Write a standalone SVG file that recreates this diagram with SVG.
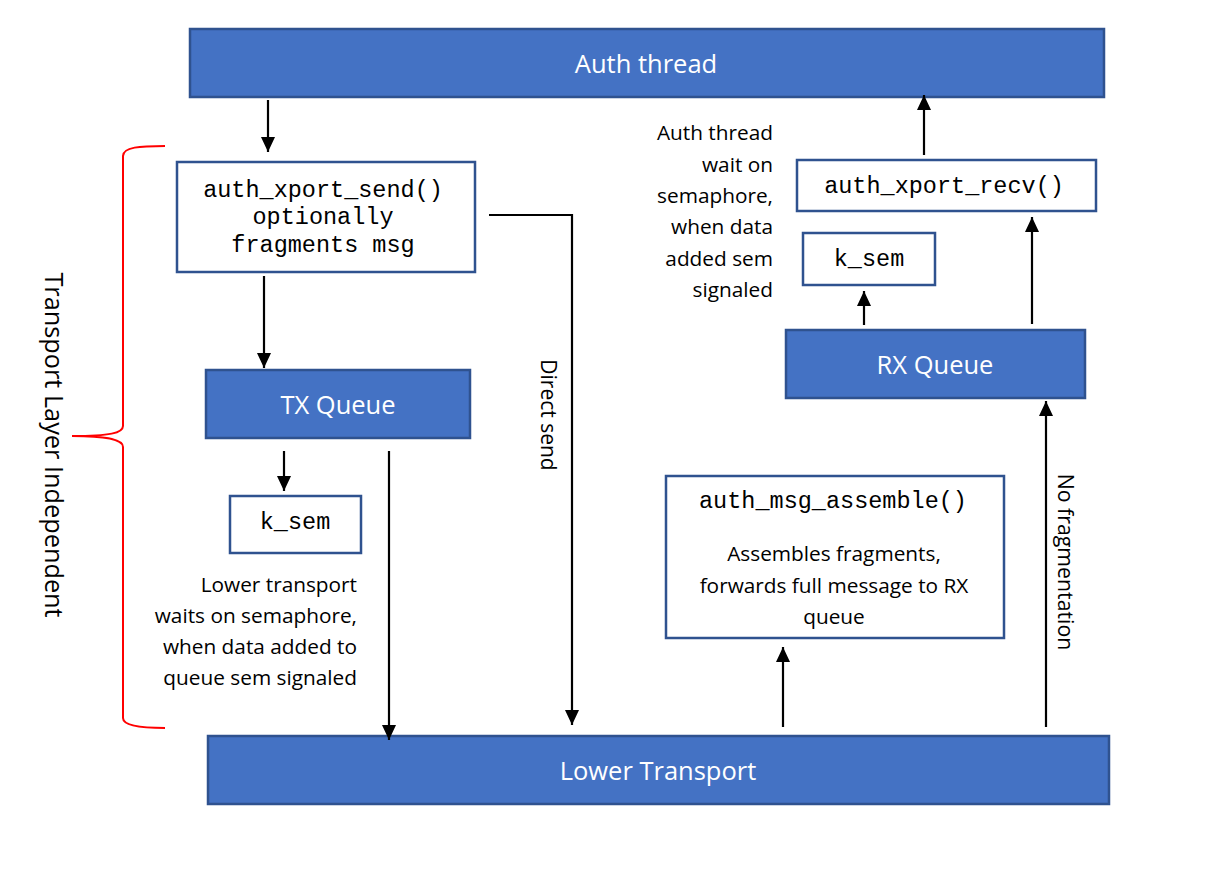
<svg xmlns="http://www.w3.org/2000/svg" width="1226" height="882" viewBox="0 0 1226 882">
<defs>
<marker id="ah" markerWidth="15" markerHeight="14" refX="15" refY="7" orient="auto" markerUnits="userSpaceOnUse" viewBox="0 0 15 14">
<path d="M0,0 L15,7 L0,14 Z" fill="#000"/>
</marker>
</defs>
<style>
.blue{fill:#4472C4;stroke:#2F528F;stroke-width:2.5}
.white{fill:#fff;stroke:#2F528F;stroke-width:2.5}
.ttl{font-family:"Open Sans","Noto Sans",sans-serif;font-size:25.5px;fill:#fff;text-anchor:middle}
.mono{font-family:"Liberation Mono","Courier New",monospace;font-size:23.5px;fill:#000;text-anchor:middle}
.lbl{font-family:"Open Sans","Noto Sans",sans-serif;font-size:20.8px;fill:#000}
.conn{stroke:#000;stroke-width:2.2;fill:none}
</style>
<rect width="1226" height="882" fill="#fff"/>
<g id="auth-thread"><rect class="blue" x="190" y="29" width="914" height="68"/><text class="ttl" x="646" y="73">Auth thread</text></g>
<g id="auth-xport-send"><rect class="white" x="177" y="162" width="298" height="110"/><text class="mono" x="323" y="197">auth_xport_send()</text><text class="mono" x="323" y="224">optionally</text><text class="mono" x="323" y="252">fragments msg</text></g>
<g id="tx-queue"><rect class="blue" x="206" y="370" width="264" height="68"/><text class="ttl" x="338" y="414">TX Queue</text></g>
<g id="k-sem-tx"><rect class="white" x="230" y="496" width="131" height="57"/><text class="mono" x="295" y="529">k_sem</text></g>
<g id="lower-transport-note"><text class="lbl" text-anchor="end"><tspan x="357" y="592">Lower transport</tspan><tspan x="357" y="623">waits on semaphore,</tspan><tspan x="357" y="654">when data added to</tspan><tspan x="357" y="685">queue sem signaled</tspan></text></g>
<g id="lower-transport"><rect class="blue" x="208" y="736" width="901" height="68"/><text class="ttl" x="658" y="780">Lower Transport</text></g>
<g id="auth-msg-assemble"><rect class="white" x="666" y="476" width="338" height="162"/><text class="mono" x="833" y="508">auth_msg_assemble()</text><text class="lbl" text-anchor="middle"><tspan x="834" y="561">Assembles fragments,</tspan><tspan x="834" y="593">forwards full message to RX</tspan><tspan x="834" y="624">queue</tspan></text></g>
<g id="rx-queue"><rect class="blue" x="786" y="330" width="299" height="68"/><text class="ttl" x="935" y="374">RX Queue</text></g>
<g id="k-sem-rx"><rect class="white" x="803" y="233" width="132" height="52"/><text class="mono" x="869" y="266">k_sem</text></g>
<g id="auth-xport-recv"><rect class="white" x="797" y="160" width="299" height="51"/><text class="mono" x="944" y="193">auth_xport_recv()</text></g>
<g id="auth-thread-note"><text class="lbl" text-anchor="end"><tspan x="773" y="140">Auth thread</tspan><tspan x="773" y="172">wait on</tspan><tspan x="773" y="203">semaphore,</tspan><tspan x="773" y="234">when data</tspan><tspan x="773" y="266">added sem</tspan><tspan x="773" y="297">signaled</tspan></text></g>
<g id="brace"><path d="M165,146 C140,146 123,147 123,156 L123,426 C123,433 110,436 72,436 C110,436 123,440 123,447 L123,718 C123,725 140,728 165,728" fill="none" stroke="#FF0000" stroke-width="2"/><text class="lbl" style="font-size:25.3px" text-anchor="middle" transform="translate(45,445) rotate(90)">Transport Layer Independent</text></g>
<g id="connectors">
<line class="conn" x1="268" y1="100" x2="268" y2="152" marker-end="url(#ah)"/>
<line class="conn" x1="264" y1="276" x2="264" y2="368" marker-end="url(#ah)"/>
<line class="conn" x1="284" y1="451" x2="284" y2="491" marker-end="url(#ah)"/>
<line class="conn" x1="389" y1="451" x2="389" y2="740" marker-end="url(#ah)"/>
<path class="conn" d="M489,215 L572,215 L572,725" marker-end="url(#ah)"/>
<text class="lbl" style="font-size:21px" text-anchor="middle" transform="translate(541,415) rotate(90)">Direct send</text>
<line class="conn" x1="783" y1="727" x2="783" y2="647" marker-end="url(#ah)"/>
<line class="conn" x1="1046" y1="727" x2="1046" y2="401" marker-end="url(#ah)"/>
<text class="lbl" style="font-size:21.3px" text-anchor="middle" transform="translate(1058,562) rotate(90)">No fragmentation</text>
<line class="conn" x1="864" y1="325" x2="864" y2="291" marker-end="url(#ah)"/>
<line class="conn" x1="1032" y1="324" x2="1032" y2="217" marker-end="url(#ah)"/>
<line class="conn" x1="924" y1="155" x2="924" y2="95" marker-end="url(#ah)"/>
</g>
</svg>
